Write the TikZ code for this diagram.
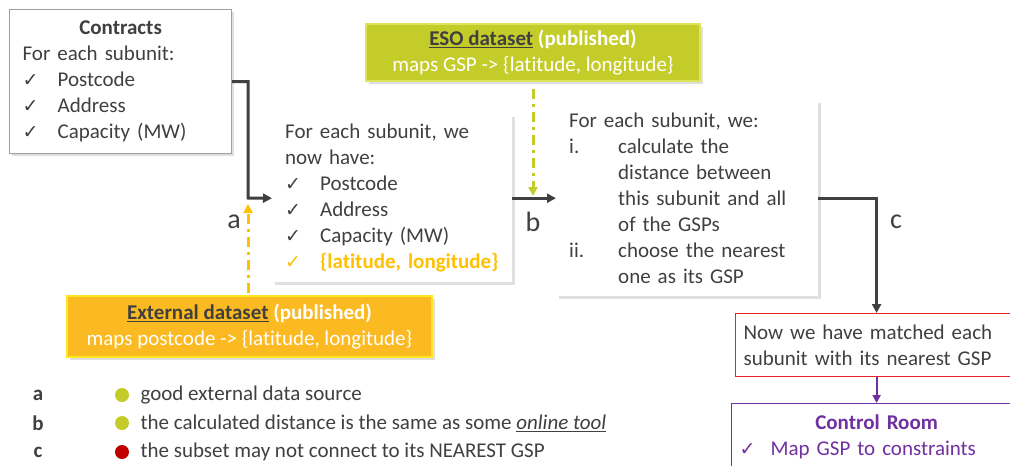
\documentclass[tikz,border=0pt]{standalone}
\usepackage{fontspec}
\setmainfont{Carlito}[Ligatures=NoCommon]
\newfontfamily\symf{DejaVu Sans}
\usetikzlibrary{arrows.meta,shadows}
\definecolor{txt}{HTML}{404040}
\definecolor{conn}{HTML}{404040}
\definecolor{gold}{HTML}{FBBA22}
\definecolor{goldline}{HTML}{FFC000}
\definecolor{goldborder}{HTML}{FFE61E}
\definecolor{lime}{HTML}{C3CC28}
\definecolor{limeborder}{HTML}{DDE35A}
\definecolor{redc}{HTML}{C00000}
\definecolor{redb}{HTML}{E8232A}
\definecolor{purp}{HTML}{7030A0}
\newcommand{\chk}[1][txt]{\makebox[35pt][l]{\textcolor{#1}{\symf\fontsize{19}{19}\selectfont ✓}}}
\tikzset{
  every node/.style={font=\fontsize{21}{26}\selectfont, text=txt},
  card/.style={fill=white, align=left, inner xsep=13pt, anchor=north west,
    drop shadow={shadow xshift=2.5pt, shadow yshift=-2.5pt, opacity=.25}},
  dataset/.style={align=center, text=white, line width=1.5pt,
    drop shadow={shadow xshift=2.5pt, shadow yshift=-2.5pt, opacity=.25}},
  flow/.style={draw=conn, line width=3pt, -{Triangle[length=9pt,width=9pt]}},
  pflow/.style={draw=purp, line width=2pt, -{Triangle[length=8pt,width=8pt]}},
  dashdot/.style={line width=3pt, dash pattern=on 10pt off 5pt on 3pt off 5pt, -{Triangle[length=9pt,width=9pt]}},
  tag/.style={font=\fontsize{28}{28}\selectfont},
  legletter/.style={font=\fontsize{21}{26}\selectfont\bfseries},
  legtext/.style={anchor=west},
}
\begin{document}
\begin{tikzpicture}[x=1pt,y=-1pt]
\clip (0,0) rectangle (1010,466);
\fill[white] (0,0) rectangle (1010,466);

% boxes
\node[card, draw=gray!75, line width=1.2pt, minimum width=222pt, minimum height=144pt, text width=196pt] (contracts) at (9,9)
 {\makebox[\hsize]{\textbf{Contracts}}\\
  For each subunit:\\
  \chk Postcode\\
  \chk Address\\
  \chk Capacity (MW)};

\node[card, minimum width=240pt, minimum height=168pt, text width=214pt] (have) at (272,114)
 {For each subunit, we\\
  now have:\\
  \chk Postcode\\
  \chk Address\\
  \chk Capacity (MW)\\
  \chk[goldline]\textcolor{goldline}{\textbf{\{latitude, longitude\}}}};

\node[card, minimum width=262pt, minimum height=196pt, text width=236pt] (plan) at (556,100)
 {For each subunit, we:\\
  \makebox[49pt][l]{i.}calculate the\\
  \hspace*{49pt}distance between\\
  \hspace*{49pt}this subunit and all\\
  \hspace*{49pt}of the GSPs\\
  \makebox[49pt][l]{ii.}choose the nearest\\
  \hspace*{49pt}one as its GSP};

\node[dataset, fill=lime, draw=limeborder, minimum width=334pt, minimum height=57pt] (eso) at (533,52.5)
 {\textbf{\textcolor{txt}{\underline{ESO dataset}} (published)}\\
  maps GSP -> \{latitude, longitude\}};

\node[dataset, fill=gold, draw=goldborder, minimum width=365pt, minimum height=61pt] (ext) at (249.5,326.5)
 {\textbf{\textcolor{txt}{\underline{External dataset}} (published)}\\
  maps postcode -> \{latitude, longitude\}};

\node[fill=white, draw=redb, line width=1.2pt, align=left, anchor=north west, inner xsep=8pt,
      minimum width=282pt, minimum height=63pt, text width=266pt] (matched) at (735,313)
 {Now we have matched each\\ subunit with its nearest GSP};

\node[fill=white, draw=purp, line width=1.2pt, align=left, anchor=north west, inner xsep=8pt,
      minimum width=290pt, minimum height=66pt, text width=274pt, text=purp] (ctrl) at (731,403)
 {\makebox[\hsize]{\textbf{Control Room}}\\ \chk[purp]\hspace{-4pt}Map GSP to constraints};

% connectors
\coordinate (j1) at (248,198);
\coordinate (atip) at (248,204);
\coordinate (btip) at (533,196);
\draw[flow] (contracts.east) -| (j1) -- (have.west);
\draw[flow] (have.east) -- (plan.west);
\draw[flow] (plan.east) -| (matched.north);
\draw[pflow] (matched.south) -- (ctrl.north);
\draw[dashdot, draw=goldline, shorten <=2pt] (ext.north -| j1) -- (atip);
\draw[dashdot, draw=lime, shorten <=7pt] (eso.south) -- (btip);

% tags
\node[tag] (ta) at (234,222) {a};
\node[tag] (tb) at (533,222) {b};
\node[tag] (tc) at (896,222) {c};

% legend
\node[legletter] (la) at (38,395) {a};
\node[legletter] (lb) at (38,423) {b};
\node[legletter] (lc) at (38,452) {c};
\fill[lime] (122,395) circle (7pt);
\fill[lime] (122,423) circle (7pt);
\fill[redc] (122,452) circle (7pt);
\node[legtext] (ga) at (137,395) {good external data source};
\node[legtext] (gb) at (137,423) {the calculated distance is the same as some \underline{\textit{online tool}}};
\node[legtext] (gc) at (137,452) {the subset may not connect to its NEAREST GSP};
\end{tikzpicture}
\end{document}
